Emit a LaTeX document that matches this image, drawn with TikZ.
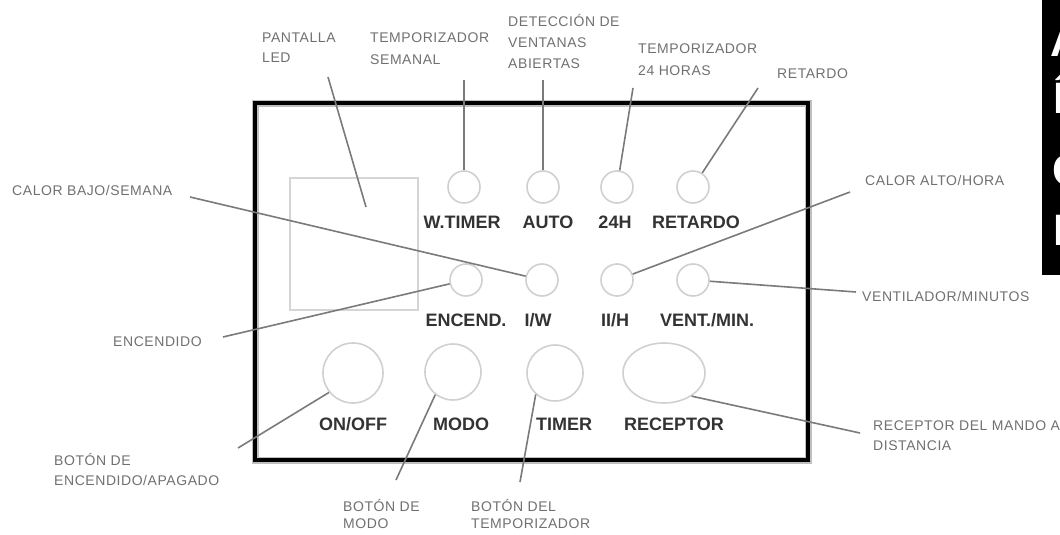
\documentclass[tikz,border=0pt]{standalone}
\usepackage{fontspec}
\setmainfont{Liberation Sans}
\newfontfamily\lblfont{Liberation Sans}[LetterSpace=4]
\usetikzlibrary{shapes.geometric}
\definecolor{labelgray}{HTML}{707070}
\definecolor{keygray}{HTML}{333333}
\definecolor{btngray}{HTML}{D0D0D0}
\definecolor{leadgray}{HTML}{7A7A7A}
\begin{document}
\begin{tikzpicture}[x=1pt,y=-1pt,
  lbl/.style={font=\lblfont\fontsize{14}{21}\selectfont, text=labelgray, inner sep=0pt, anchor=base west, align=left},
  keylbl/.style={font=\fontsize{18}{18}\selectfont\bfseries, text=keygray, inner sep=0pt, anchor=base},
  btn/.style={circle, draw=btngray, line width=1.6pt, minimum size=32pt, inner sep=0pt},
  bigbtn/.style={circle, draw=btngray, line width=1.6pt, minimum size=#1, inner sep=0pt},
  leader/.style={draw=leadgray, line width=1.6pt},
  panelbox/.style={draw=black, line width=4pt, inner sep=0pt, minimum width=553pt, minimum height=357pt},
  screenbox/.style={draw=btngray!90, line width=1.8pt, inner sep=0pt, minimum width=128pt, minimum height=132pt},
  boxletter/.style={font=\fontsize{44}{44}\selectfont\bfseries, text=white, inner sep=0pt, anchor=base west},
]
\useasboundingbox (0,0) rectangle (1060,535);

% panel and screen
\node[draw=black!25, line width=7pt, minimum width=553pt, minimum height=357pt] (panelhalo) at (531.5,281.5) {};
\node[panelbox] (panel) at (531.5,281.5) {};
\node[screenbox] (screen) at (354,244) {};

% small buttons row 1
\node[btn] (wt) at (464,187) {};
\node[btn] (auto) at (543,187) {};
\node[btn] (h24) at (617,187) {};
\node[btn] (ret) at (693,187) {};
% small buttons row 2
\node[btn] (enc) at (466,280) {};
\node[btn] (iw) at (542,280) {};
\node[btn] (iih) at (617,280) {};
\node[btn] (vent) at (693,280) {};
% big buttons
\node[bigbtn=60pt] (onoff) at (353,373) {};
\node[bigbtn=56pt] (modo) at (453,372) {};
\node[bigbtn=56pt] (timer) at (555,373) {};
\node[ellipse, draw=btngray, line width=1.6pt, minimum width=82pt, minimum height=60pt, inner sep=0pt] (recep) at (664,373) {};

% key labels
\node[keylbl] (kwt) at (462,228) {W.TIMER};
\node[keylbl] (kauto) at (548,228) {AUTO};
\node[keylbl] (kh24) at (615,228) {24H};
\node[keylbl] (kret) at (696,228) {RETARDO};
\node[keylbl] (kenc) at (466,326) {ENCEND.};
\node[keylbl] (kiw) at (538,326) {I/W};
\node[keylbl] (kiih) at (615,326) {II/H};
\node[keylbl] (kvent) at (707,326) {VENT./MIN.};
\node[keylbl] (konoff) at (353,430) {ON/OFF};
\node[keylbl] (kmodo) at (461,430) {MODO};
\node[keylbl] (ktimer) at (564,430) {TIMER};
\node[keylbl] (krecep) at (674,430) {RECEPTOR};

% callout labels (base anchor = baseline of the last line)
\node[lbl, font=\lblfont\fontsize{14}{20}\selectfont] (tled) at (262,63) {PANTALLA\\LED};
\node[lbl, font=\lblfont\fontsize{14}{22}\selectfont] (tsem) at (370,65) {TEMPORIZADOR\\SEMANAL};
\node[lbl, font=\lblfont\fontsize{14}{21.5}\selectfont] (tdet) at (508,69) {DETECCIÓN DE\\VENTANAS\\ABIERTAS};
\node[lbl, font=\lblfont\fontsize{14}{22}\selectfont] (t24) at (638,75) {TEMPORIZADOR\\24 HORAS};
\node[lbl] (tret) at (777,78) {RETARDO};
\node[lbl] (tbajo) at (12,195) {CALOR BAJO/SEMANA};
\node[lbl] (talto) at (865,185) {CALOR ALTO/HORA};
\node[lbl] (tenc) at (113,346) {ENCENDIDO};
\node[lbl] (tvent) at (862,301) {VENTILADOR/MINUTOS};
\node[lbl, font=\lblfont\fontsize{14}{20}\selectfont] (tonoff) at (54,485) {BOTÓN DE\\ENCENDIDO/APAGADO};
\node[lbl, font=\lblfont\fontsize{14}{17}\selectfont] (tmodo) at (343,528) {BOTÓN DE\\MODO};
\node[lbl, font=\lblfont\fontsize{14}{17}\selectfont] (ttimer) at (471,528) {BOTÓN DEL\\TEMPORIZADOR};
\node[lbl, font=\lblfont\fontsize{14}{20}\selectfont] (trecep) at (873,450) {RECEPTOR DEL MANDO A\\DISTANCIA};

% leader free ends
\coordinate (cled) at (328,77);
\coordinate (cledend) at (366,207);
\coordinate (csem) at (464,80);
\coordinate (cdet) at (543,80);
\coordinate (c24) at (633,88);
\coordinate (cret) at (758,88);
\coordinate (cbajo) at (190,197);
\coordinate (cenc) at (223,337);
\coordinate (calto) at (850,192);
\coordinate (cvent) at (856,292);
\coordinate (conoff) at (238,448);
\coordinate (cmodo) at (396,480);
\coordinate (ctimer) at (520,482);
\coordinate (crecep) at (860,433);

% leaders
\draw[leader] (cled) -- (cledend);
\draw[leader] (csem) -- (wt.north);
\draw[leader] (cdet) -- (auto.north);
\draw[leader] (c24) -- (h24);
\draw[leader] (cret) -- (ret);
\draw[leader] (cbajo) -- (iw);
\draw[leader] (cenc) -- (enc);
\draw[leader] (calto) -- (iih);
\draw[leader] (cvent) -- (vent);
\draw[leader] (conoff) -- (onoff.219);
\draw[leader] (cmodo) -- (modo.232);
\draw[leader] (ctimer) -- (timer.228);
\draw[leader] (crecep) -- (recep.-40);

% clipped black box at the right edge
\begin{scope}
\clip (0,0) rectangle (1060,535);
\fill[black] (1042,0) rectangle (1075,275);
\node[boxletter] (bA) at (1050,57) {A};
\node[boxletter] (bI) at (1053,113) {Í};
\node[boxletter] (bC) at (1052,185) {C};
\node[boxletter] (bL) at (1053,245) {I};
\end{scope}
\end{tikzpicture}
\end{document}
